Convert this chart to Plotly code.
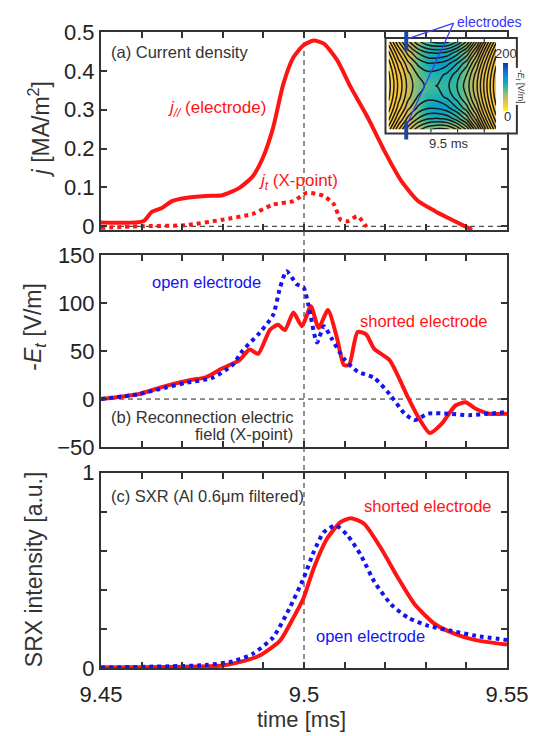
import plotly.graph_objects as go

# ---------------- data ----------------
# (a) current density
T_JPAR = [9.45, 9.4604, 9.4625, 9.465, 9.4675, 9.4708, 9.4758, 9.4799, 9.4841, 9.4874,
          9.4899, 9.4924, 9.4949, 9.4974, 9.4999, 9.5024, 9.5049, 9.5082, 9.5115, 9.5157,
          9.5198, 9.524, 9.5281, 9.5323, 9.5364, 9.5414]
J_PAR = [0.010, 0.013, 0.037, 0.047, 0.065, 0.073, 0.078, 0.080, 0.099, 0.129,
         0.177, 0.254, 0.366, 0.435, 0.466, 0.478, 0.470, 0.427, 0.358, 0.280,
         0.194, 0.116, 0.065, 0.039, 0.017, -0.009]
T_JT = [9.45, 9.4591, 9.4708, 9.4799, 9.4874, 9.4924, 9.4974, 9.5007, 9.5049, 9.5074,
        9.509, 9.5107, 9.5132, 9.5153, 9.5158]
J_T = [-0.004, 0.0, 0.003, 0.017, 0.032, 0.056, 0.065, 0.086, 0.078, 0.056,
       0.017, 0.013, 0.026, 0.0, -0.009]

# (b) reconnection electric field
T_E_SHORT = [9.45, 9.4591, 9.4658, 9.4724, 9.4758, 9.4799, 9.4841, 9.4866, 9.4887, 9.4916,
             9.4936, 9.4953, 9.4974, 9.4995, 9.5017, 9.5036, 9.5059, 9.5082, 9.5098, 9.5111,
             9.5132, 9.5153, 9.5173, 9.5211, 9.5256, 9.5281, 9.531, 9.534, 9.5373, 9.5398,
             9.5423, 9.5456, 9.55]
E_SHORT = [0, 5, 13.5, 20, 22.6, 32, 40.4, 51.5, 47, 72,
           77.4, 71.7, 90, 75.8, 96.6, 74, 92.6, 62.3, 35.4, 35.4,
           69.7, 67.3, 52.2, 40.4, 1.7, -18.5, -35.4, -25.3, -6.7, -3.4,
           -10.1, -15.2, -15.2]
T_E_OPEN = [9.45, 9.4591, 9.4658, 9.4708, 9.4774, 9.4824, 9.4849, 9.4891, 9.4924, 9.4941,
            9.4957, 9.4982, 9.4999, 9.5011, 9.5032, 9.5049, 9.5069, 9.5098, 9.5132, 9.5173,
            9.5211, 9.5248, 9.5273, 9.5306, 9.5356, 9.5406, 9.5456, 9.55]
E_OPEN = [0, 5, 11.8, 16.8, 21.9, 35.4, 50.5, 69, 87.5, 116,
          133, 119.5, 116, 97.6, 58.9, 75.8, 62.3, 42.1, 28.6, 21.9,
          5, -15.2, -21.9, -15.2, -15.2, -16.8, -15.2, -13.5]

# (c) SXR intensity
T_SXR_SHORT = [9.45, 9.4799, 9.4841, 9.4891, 9.4941, 9.4974, 9.4999, 9.5024, 9.5057, 9.509,
               9.5115, 9.5148, 9.519, 9.5232, 9.5273, 9.5323, 9.5373, 9.5423, 9.55]
SXR_SHORT = [0.003, 0.013, 0.030, 0.064, 0.140, 0.258, 0.359, 0.511, 0.663, 0.747,
             0.767, 0.739, 0.612, 0.460, 0.325, 0.224, 0.174, 0.143, 0.120]
T_SXR_OPEN = [9.45, 9.4758, 9.4824, 9.4874, 9.4924, 9.4965, 9.4999, 9.5024, 9.5049, 9.5078,
              9.5107, 9.514, 9.5173, 9.5215, 9.5256, 9.5306, 9.5364, 9.5423, 9.55]
SXR_OPEN = [0.003, 0.015, 0.034, 0.073, 0.157, 0.309, 0.460, 0.595, 0.696, 0.730,
            0.680, 0.578, 0.443, 0.325, 0.258, 0.216, 0.190, 0.165, 0.143]

X_TICKS = [9.45, 9.46, 9.47, 9.48, 9.49, 9.50, 9.51, 9.52, 9.53, 9.54, 9.55]
X_TICK_LABELS = ["9.45", "", "", "", "", "9.5", "", "", "", "", "9.55"]
C_TICKS = [0, 0.2, 0.4, 0.6, 0.8, 1.0]
C_TICK_LABELS = ["0", "", "", "", "", "1"]

# inset (estimated flux map and -E_t map, 12 columns x 9 rows, bottom row first)
INSET_COLS = [0, 1, 2, 3, 4, 5, 6, 7, 8, 9, 10, 11]
INSET_ROWS = [0, 1, 2, 3, 4, 5, 6, 7, 8]
INSET_FLUX = [
    [0.080, -0.020, -0.105, -0.165, -0.200, -0.214, -0.212, -0.174, -0.110, 0.000, 0.130, 0.240],
    [0.133, 0.041, -0.035, -0.086, -0.113, -0.118, -0.107, -0.069, -0.014, 0.079, 0.191, 0.293],
    [0.170, 0.085, 0.015, -0.030, -0.050, -0.049, -0.032, 0.006, 0.055, 0.135, 0.235, 0.330],
    [0.193, 0.111, 0.045, 0.004, -0.013, -0.008, 0.013, 0.051, 0.096, 0.169, 0.261, 0.353],
    [0.200, 0.120, 0.055, 0.015, 0.000, 0.006, 0.028, 0.066, 0.110, 0.180, 0.270, 0.360],
    [0.193, 0.111, 0.045, 0.004, -0.013, -0.008, 0.013, 0.051, 0.096, 0.169, 0.261, 0.353],
    [0.170, 0.085, 0.015, -0.030, -0.050, -0.049, -0.032, 0.006, 0.055, 0.135, 0.235, 0.330],
    [0.133, 0.041, -0.035, -0.086, -0.113, -0.118, -0.107, -0.069, -0.014, 0.079, 0.191, 0.293],
    [0.080, -0.020, -0.105, -0.165, -0.200, -0.214, -0.212, -0.174, -0.110, 0.000, 0.130, 0.240],
]
INSET_E = [
    [20, 25, 35, 55, 70, 60, 50, 55, 55, 40, 30, 25],
    [20, 30, 45, 75, 105, 115, 105, 95, 70, 45, 30, 25],
    [20, 30, 50, 85, 120, 130, 125, 110, 80, 50, 30, 25],
    [20, 30, 55, 85, 105, 110, 110, 100, 75, 50, 30, 25],
    [20, 30, 55, 80, 90, 95, 100, 95, 75, 50, 30, 25],
    [20, 30, 55, 80, 100, 110, 110, 100, 75, 50, 30, 25],
    [20, 30, 50, 85, 115, 130, 125, 110, 80, 50, 30, 25],
    [20, 30, 45, 80, 110, 120, 115, 100, 75, 45, 30, 25],
    [20, 30, 45, 70, 95, 105, 100, 90, 65, 40, 30, 25],
]

# ---------------- styling ----------------
# The page body has an 8px default margin, so the figure is made 8px smaller
# and all positions below are given in window pixels.
OFF = 8
W, H = 540 - OFF, 736 - OFF
ML, MR, MT, MB = 101 - OFF, 28, 23 - OFF, 68
PW, PH = W - ML - MR, H - MT - MB
RED = "#ff1414"
BLUE = "#1414f0"
TXT = "#333333"
FONT = "Liberation Sans, Arial, sans-serif"


def px(x):
    return (x - OFF - ML) / PW


def py(y):
    return (MT + PH - (y - OFF)) / PH


DOM_A = [py(224), 1.0]
DOM_B = [py(444), py(249)]
DOM_C = [0.0, py(470)]

fig = go.Figure()

# panel (a)
fig.add_trace(go.Scatter(x=T_JPAR, y=J_PAR, mode="lines", xaxis="x", yaxis="y",
                         line=dict(color=RED, width=4, shape="spline", smoothing=0.6)))
fig.add_trace(go.Scatter(x=T_JT, y=J_T, mode="lines", xaxis="x", yaxis="y",
                         line=dict(color=RED, width=4, dash="dot", shape="spline", smoothing=0.6)))
# panel (b)
fig.add_trace(go.Scatter(x=T_E_SHORT, y=E_SHORT, mode="lines", xaxis="x2", yaxis="y2",
                         line=dict(color=RED, width=4, shape="spline", smoothing=0.6)))
fig.add_trace(go.Scatter(x=T_E_OPEN, y=E_OPEN, mode="lines", xaxis="x2", yaxis="y2",
                         line=dict(color=BLUE, width=4, dash="dot", shape="spline", smoothing=0.6)))
# panel (c)
fig.add_trace(go.Scatter(x=T_SXR_SHORT, y=SXR_SHORT, mode="lines", xaxis="x3", yaxis="y3",
                         line=dict(color=RED, width=4, shape="spline", smoothing=0.6)))
fig.add_trace(go.Scatter(x=T_SXR_OPEN, y=SXR_OPEN, mode="lines", xaxis="x3", yaxis="y3",
                         line=dict(color=BLUE, width=4, dash="dot", shape="spline", smoothing=0.6)))

# inset
PARULA_R = [[0, "#f9fb0e"], [0.125, "#fec832"], [0.25, "#d1bb59"], [0.375, "#87bf77"],
            [0.5, "#2eb7a4"], [0.625, "#06a4ca"], [0.75, "#1481d6"], [0.875, "#0f5cdd"],
            [1, "#352a87"]]
fig.add_trace(go.Heatmap(z=INSET_E, x=INSET_COLS, y=INSET_ROWS, xaxis="x4", yaxis="y4",
                         colorscale=PARULA_R, zmin=0, zmax=200, zsmooth="best",
                         hoverinfo="skip",
                         colorbar=dict(x=px(508), xanchor="left", y=py(79), yanchor="middle",
                                       thickness=5, thicknessmode="pixels",
                                       len=48, lenmode="pixels", showticklabels=False,
                                       ticks="", outlinewidth=0, xpad=0, ypad=0)))
fig.add_trace(go.Contour(z=INSET_FLUX, x=INSET_COLS, y=INSET_ROWS, xaxis="x4", yaxis="y4",
                         showscale=False, hoverinfo="skip",
                         contours=dict(coloring="none", start=-0.205, end=0.36, size=0.03),
                         line=dict(color="#1a1a1a", width=1.5)))

axis_common = dict(showline=True, linecolor=TXT, linewidth=2, mirror="ticks",
                   ticks="inside", ticklen=6, tickwidth=1.5, tickcolor=TXT,
                   showgrid=False, zeroline=False,
                   tickfont=dict(family=FONT, size=22, color="#222"))

xcommon = dict(axis_common, range=[9.45, 9.55], tickmode="array",
               tickvals=X_TICKS, ticktext=X_TICK_LABELS)

fig.update_layout(
    width=W, height=H, autosize=False,
    margin=dict(l=ML, r=MR, t=MT, b=MB, pad=0),
    paper_bgcolor="white", plot_bgcolor="white",
    showlegend=False,
    font=dict(family=FONT, color=TXT),
    xaxis=dict(xcommon, domain=[0, 1], anchor="y", showticklabels=False),
    yaxis=dict(axis_common, domain=DOM_A, anchor="x", range=[-0.01, 0.5], dtick=0.1),
    xaxis2=dict(xcommon, domain=[0, 1], anchor="y2", showticklabels=False),
    yaxis2=dict(axis_common, domain=DOM_B, anchor="x2", range=[-50, 150], dtick=50),
    xaxis3=dict(xcommon, domain=[0, 1], anchor="y3", ticklabelstandoff=6),
    yaxis3=dict(axis_common, domain=DOM_C, anchor="x3", range=[0, 1], tickmode="array",
                tickvals=C_TICKS, ticktext=C_TICK_LABELS),
    xaxis4=dict(domain=[px(392), px(501)], anchor="y4", range=[0, 11],
                showline=False, showticklabels=False, ticks="", showgrid=False, zeroline=False),
    yaxis4=dict(domain=[py(122), py(33)], anchor="x4", range=[0, 8],
                showline=False, showticklabels=False, ticks="", showgrid=False, zeroline=False),
)

shapes = []
# guide lines
shapes.append(dict(type="line", xref="x3", yref="paper", x0=9.5, x1=9.5, y0=0, y1=1,
                   line=dict(color="#222", width=1, dash="5px,4px"), layer="below"))
shapes.append(dict(type="line", xref="paper", yref="y", x0=0, x1=1, y0=0, y1=0,
                   line=dict(color="#222", width=1, dash="5px,4px"), layer="below"))
shapes.append(dict(type="line", xref="paper", yref="y2", x0=0, x1=1, y0=0, y1=0,
                   line=dict(color="#222", width=1, dash="5px,4px"), layer="below"))
# inset decorations
shapes.append(dict(type="rect", xref="paper", yref="paper", x0=px(502), x1=px(521),
                   y0=py(125), y1=py(30), line=dict(width=0), fillcolor="white", layer="above"))
shapes.append(dict(type="rect", xref="paper", yref="paper", x0=px(389), x1=px(522),
                   y0=py(126), y1=py(29), line=dict(color=TXT, width=2), layer="above"))
for xt in [435, 462, 489]:
    for yt0, yt1 in [(30, 34), (121, 125)]:
        shapes.append(dict(type="line", xref="paper", yref="paper", x0=px(xt), x1=px(xt),
                           y0=py(yt0), y1=py(yt1), line=dict(color=TXT, width=1.2),
                           layer="above"))
for yb0, yb1 in [(23, 42), (113, 132)]:
    shapes.append(dict(type="rect", xref="paper", yref="paper", x0=px(408), x1=px(412),
                       y0=py(yb1), y1=py(yb0), line=dict(width=0), fillcolor="#1d48a0",
                       layer="above"))
for ye in [30, 116]:
    shapes.append(dict(type="line", xref="paper", yref="paper", x0=px(458), y0=py(14),
                       x1=px(411), y1=py(ye), line=dict(color="#3b3bff", width=1.2),
                       layer="above"))
fig.update_layout(shapes=shapes)


def ann(text, x, y, size=16.5, color=TXT, xanchor="left", angle=0, bg=None, yanchor="middle"):
    d = dict(text=text, xref="paper", yref="paper", x=px(x), y=py(y), showarrow=False,
             xanchor=xanchor, yanchor=yanchor, textangle=angle,
             font=dict(family=FONT, size=size, color=color))
    if bg:
        d["bgcolor"] = bg
    fig.add_annotation(**d)


ann("(a) Current density", 109, 43)
ann("<i>j</i><sub><i>//</i></sub> (electrode)", 167, 101, size=17, color=RED)
ann("<i>j</i><sub><i>t</i></sub> (X-point)", 259, 175, size=17, color=RED)
ann("open electrode", 151, 277, color=BLUE)
ann("shorted electrode", 361, 316, color=RED)
ann("(b) Reconnection electric", 109, 413)
ann("field (X-point)", 297, 431, xanchor="right")
ann("(c) SXR (Al 0.6μm filtered)", 109, 494)
ann("shorted electrode", 365, 504, color=RED)
ann("open electrode", 317, 636, color=BLUE)

# axis titles
ann("<i>j</i> [MA/m<sup>2</sup>]", 38, 122, size=23, xanchor="center", angle=-90)
ann("-<i>E<sub>t</sub></i> [V/m]", 34, 322, size=23, xanchor="center", angle=-90)
ann("SRX intensity [a.u.]", 34, 568, size=23, xanchor="center", angle=-90)
ann("time [ms]", 304, 735, size=22, xanchor="center", yanchor="bottom")

# inset labels
ann("electrodes", 459, 13, size=14, color="#3333ff")
ann("9.5 ms", 453, 136, size=13, xanchor="center")
ann("200", 511, 45, size=13, xanchor="center")
ann("0", 512, 109, size=13, xanchor="center")
ann("-<i>E<sub>t</sub></i> [V/m]", 526, 78, size=9, xanchor="center", angle=90, bg="white")

fig.write_html("out.html")
